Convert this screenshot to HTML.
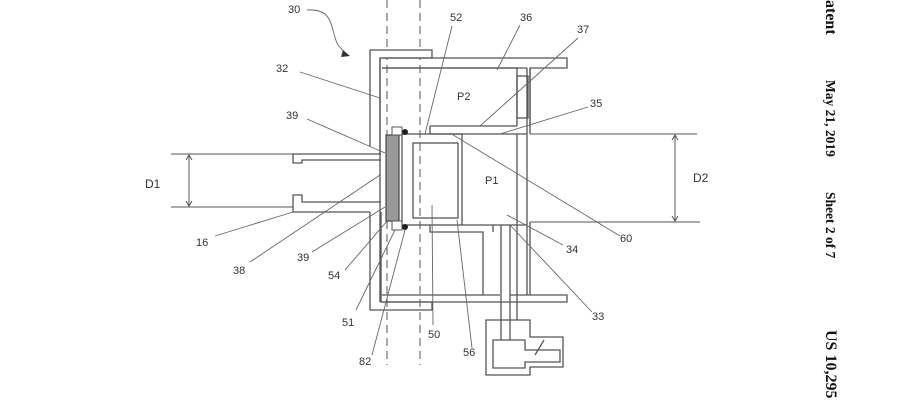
<!DOCTYPE html>
<html><head><meta charset="utf-8"><style>
body{margin:0;background:#fff;width:900px;height:400px;overflow:hidden}
svg{display:block}
.t{font-family:"Liberation Sans",sans-serif;font-size:11px;fill:#333}
.h{font-family:"Liberation Serif",serif;font-weight:bold;font-size:14px;fill:#111}
</style></head><body>
<svg width="900" height="400" viewBox="0 0 900 400">
<g fill="none" stroke="#555" stroke-width="1.3">
<line x1="387" y1="0" x2="387" y2="365" stroke-dasharray="8,5" stroke-width="1"/>
<line x1="420" y1="0" x2="420" y2="365" stroke-dasharray="8,5" stroke-width="1"/>
<path d="M370,146 V50 H432 V58 H380 V154" fill="#fff"/>
<path d="M381,212 V302 H432 V310 H370 V212"/>
<line x1="380" y1="58" x2="380" y2="302"/>
<path d="M381,154 H293 V163 H302 V160 H381"/>
<path d="M381,202 H302 V195 H293 V212 H370"/>
<path d="M382,58 H567 V68 H530 V126 M527,68 H382 Z" />
<path d="M382,68 H517 V126"/>
<rect x="517" y="76" width="11" height="42"/>
<line x1="527" y1="68" x2="527" y2="295"/>
<line x1="530" y1="68" x2="530" y2="134"/>
<line x1="530" y1="222" x2="530" y2="295"/>
<path d="M430,126 H517 M430,126 V134 H527"/>
<line x1="517" y1="134" x2="517" y2="225"/>
<line x1="462" y1="225" x2="527" y2="225"/>
<rect x="402" y="134" width="60" height="91"/>
<rect x="413" y="143" width="45" height="75"/>
<path d="M430,225 V232 H483 V295 M493,232 V225"/>
<path d="M382,295 H500 M510,295 H567 V302 H382"/>
<line x1="501" y1="225" x2="501" y2="340"/>
<line x1="510" y1="225" x2="510" y2="340"/>
<line x1="517" y1="225" x2="517" y2="320"/>
<path d="M486,320 H530 V337 H563 V367 H530 V375 H486 Z"/>
<path d="M493,340 H525 V350 H560 V362 H525 V368 H493 Z"/>
<line x1="535" y1="355" x2="544" y2="340"/>
<line x1="171" y1="154" x2="293" y2="154" stroke-width="1"/>
<line x1="171" y1="207" x2="293" y2="207" stroke-width="1"/>
<line x1="189" y1="155" x2="189" y2="206" stroke-width="1"/>
<path d="M186,160 L189,155 L192,160 M186,201 L189,206 L192,201" stroke-width="1"/>
<line x1="530" y1="134" x2="697" y2="134" stroke-width="1"/>
<line x1="530" y1="222" x2="700" y2="222" stroke-width="1"/>
<line x1="675" y1="135" x2="675" y2="221" stroke-width="1"/>
<path d="M672,140 L675,135 L678,140 M672,216 L675,221 L678,216" stroke-width="1"/>
<g stroke-width="0.9" stroke="#666">
<path d="M307,10 C335,8 330,30 338,45 L346,54"/>
<line x1="300" y1="72" x2="380" y2="98"/>
<line x1="307" y1="119" x2="385" y2="153"/>
<line x1="452" y1="26" x2="425" y2="134"/>
<line x1="520" y1="25" x2="497" y2="70"/>
<line x1="578" y1="38" x2="480" y2="126"/>
<line x1="588" y1="107" x2="500" y2="134"/>
<line x1="620" y1="236" x2="450" y2="133"/>
<line x1="563" y1="245" x2="507" y2="215"/>
<line x1="592" y1="312" x2="510" y2="225"/>
<line x1="215" y1="236" x2="293" y2="212"/>
<line x1="250" y1="262" x2="380" y2="175"/>
<line x1="312" y1="252" x2="385" y2="207"/>
<line x1="345" y1="270" x2="388" y2="220"/>
<line x1="356" y1="310" x2="395" y2="230"/>
<line x1="372" y1="355" x2="405" y2="230"/>
<line x1="433" y1="325" x2="432" y2="205"/>
<line x1="472" y1="348" x2="457" y2="220"/>
</g>
</g>
<path d="M343,50 L350,56 L341,57 Z" fill="#333"/>
<rect x="386" y="135" width="13" height="86" fill="#999" stroke="#444" stroke-width="1.2"/>
<rect x="392" y="127" width="10" height="8" fill="#fff" stroke="#555"/>
<rect x="392" y="221" width="10" height="9" fill="#fff" stroke="#555"/>
<circle cx="405" cy="132" r="3" fill="#222"/>
<circle cx="405" cy="227" r="3" fill="#222"/>
<text class="t" x="288" y="13">30</text>
<text class="t" x="276" y="72">32</text>
<text class="t" x="286" y="119">39</text>
<text class="t" x="450" y="21">52</text>
<text class="t" x="520" y="21">36</text>
<text class="t" x="577" y="33">37</text>
<text class="t" x="590" y="107">35</text>
<text class="t" x="457" y="100">P2</text>
<text class="t" x="485" y="184">P1</text>
<text class="t" x="145" y="188" style="font-size:12px">D1</text>
<text class="t" x="693" y="182" style="font-size:12px">D2</text>
<text class="t" x="620" y="242">60</text>
<text class="t" x="566" y="253">34</text>
<text class="t" x="592" y="320">33</text>
<text class="t" x="196" y="246">16</text>
<text class="t" x="233" y="274">38</text>
<text class="t" x="297" y="261">39</text>
<text class="t" x="328" y="279">54</text>
<text class="t" x="342" y="326">51</text>
<text class="t" x="428" y="338">50</text>
<text class="t" x="463" y="356">56</text>
<text class="t" x="359" y="365">82</text>
<text class="h" transform="translate(826,0) rotate(90)" x="0" y="0" style="font-size:16px">atent</text>
<text class="h" transform="translate(826,80) rotate(90)" x="0" y="0" style="font-size:13.5px">May 21, 2019</text>
<text class="h" transform="translate(826,192) rotate(90)" x="0" y="0" style="font-size:13.5px">Sheet 2 of 7</text>
<text class="h" transform="translate(826,330) rotate(90)" x="0" y="0" style="font-size:16px">US 10,295</text>
</svg>
</body></html>
